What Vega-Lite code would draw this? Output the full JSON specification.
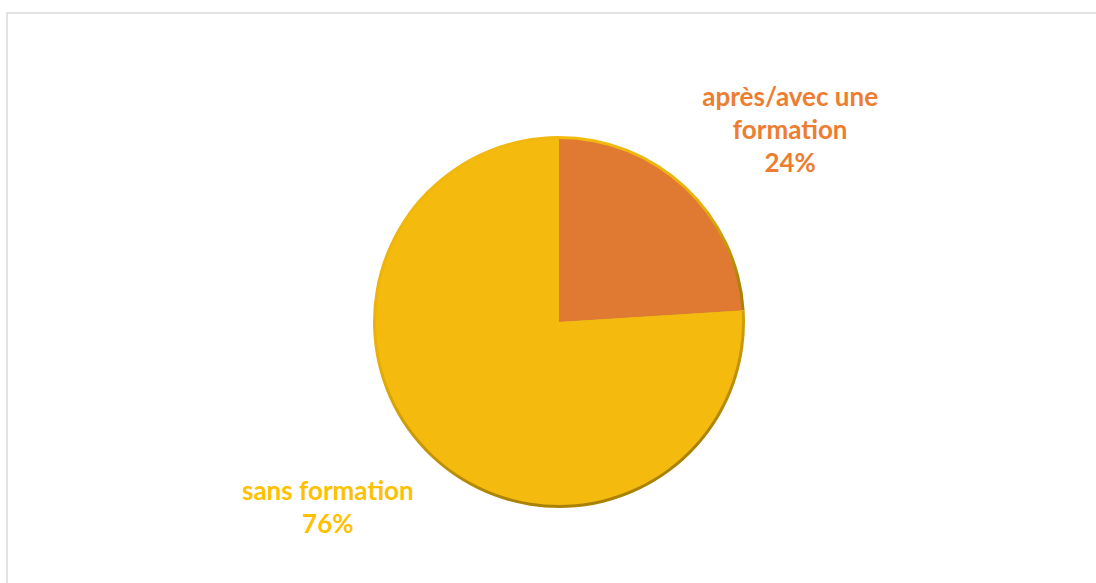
{
  "$schema": "https://vega.github.io/schema/vega-lite/v6.json",
  "width": 1104,
  "height": 618,
  "autosize": {"type": "none"},
  "padding": {"left": 7, "top": 13, "right": 0, "bottom": 0},
  "background": "white",
  "view": {"stroke": "#d9d9d9", "strokeWidth": 1.5, "fill": "white"},
  "data": {
    "values": [
      {"categorie": "après/avec une formation", "pct": 24, "ordre": 0, "label": "après/avec une\nformation\n24%"},
      {"categorie": "sans formation", "pct": 76, "ordre": 1, "label": "sans formation\n76%"}
    ]
  },
  "layer": [
    {
      "mark": {
        "type": "arc",
        "outerRadius": 186,
        "color": {
          "gradient": "linear",
          "x1": 0, "y1": 0, "x2": 0.3, "y2": 1,
          "stops": [
            {"offset": 0, "color": "#F4BA0E"},
            {"offset": 0.55, "color": "#E9B00C"},
            {"offset": 1, "color": "#A98205"}
          ]
        }
      },
      "encoding": {
        "theta": {"field": "pct", "type": "quantitative", "stack": true},
        "order": {"field": "ordre", "type": "quantitative"}
      }
    },
    {
      "mark": {"type": "arc", "outerRadius": 183},
      "encoding": {
        "theta": {"field": "pct", "type": "quantitative", "stack": true},
        "order": {"field": "ordre", "type": "quantitative"},
        "color": {
          "field": "categorie",
          "type": "nominal",
          "scale": {"domain": ["après/avec une formation", "sans formation"], "range": ["#E07932", "#F4BA0E"]},
          "legend": null
        }
      }
    },
    {
      "mark": {
        "type": "text",
        "radius": 304,
        "dy": -27,
        "font": "Lato",
        "fontWeight": "bold",
        "fontSize": 26,
        "lineBreak": "\n",
        "lineHeight": 33,
        "align": "center",
        "baseline": "middle"
      },
      "encoding": {
        "theta": {"field": "pct", "type": "quantitative", "stack": true, "scale": {"range": [0.11, 6.3932]}},
        "order": {"field": "ordre", "type": "quantitative"},
        "text": {"field": "label"},
        "color": {
          "field": "categorie",
          "type": "nominal",
          "scale": {"domain": ["après/avec une formation", "sans formation"], "range": ["#ED7D31", "#FFC000"]},
          "legend": null
        }
      }
    }
  ],
  "resolve": {"scale": {"theta": "independent", "color": "independent"}}
}
